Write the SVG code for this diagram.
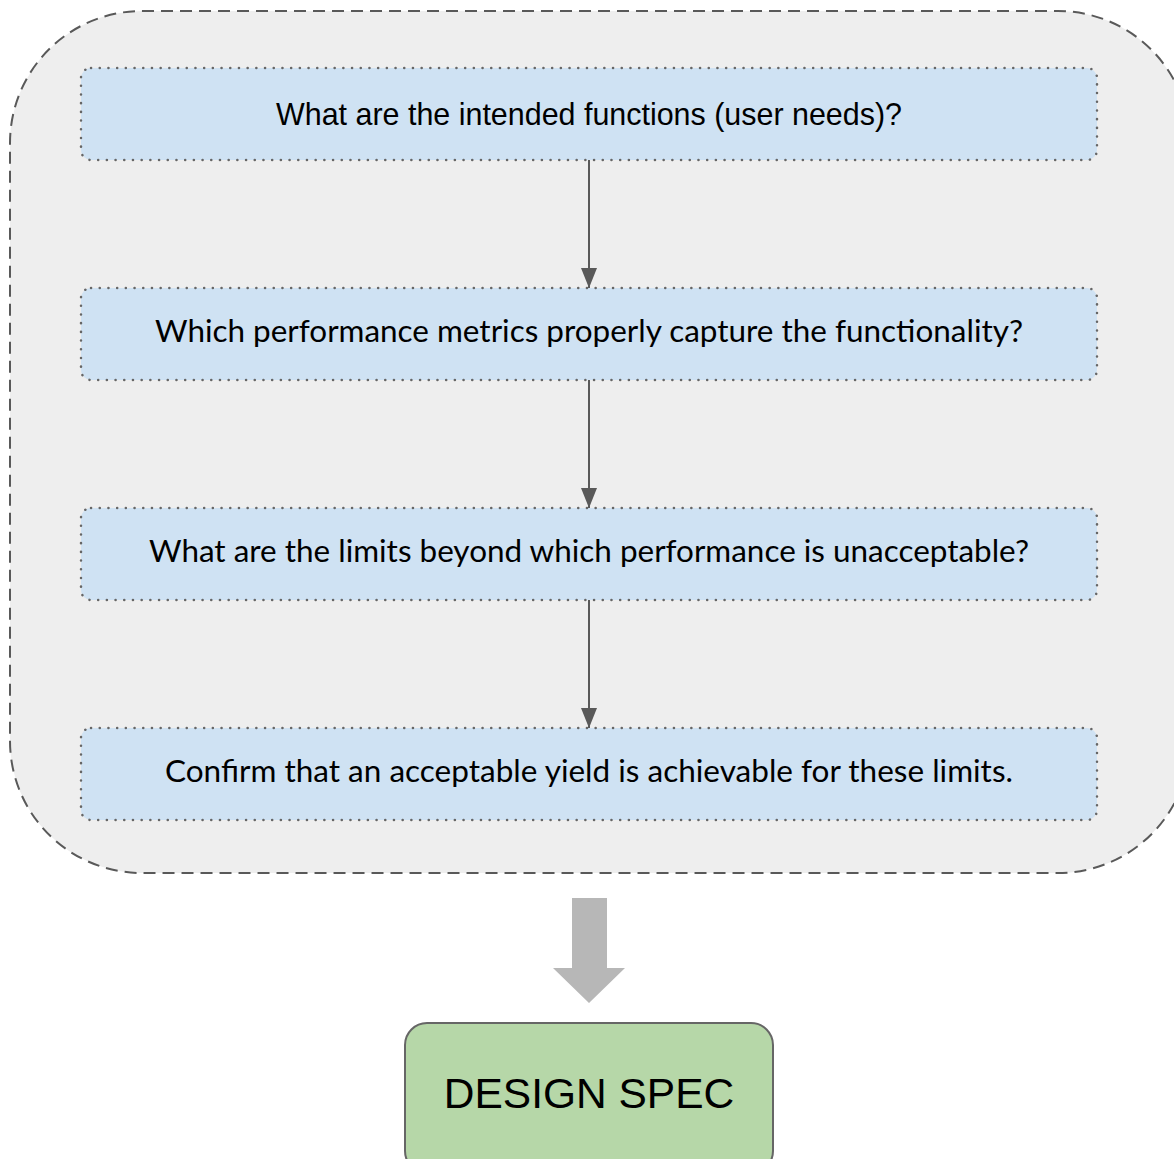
<svg xmlns="http://www.w3.org/2000/svg" width="1174" height="1159" viewBox="0 0 1174 1159">
<defs>
<style>
.q{fill:#cfe2f3;stroke:#666;stroke-width:2.5;stroke-dasharray:0.1 8.6;stroke-linecap:round}
.t{font-family:Lato,"Open Sans",sans-serif;font-size:31px;fill:#000;text-anchor:middle}
.ta{font-family:"Liberation Sans",Arial,sans-serif;font-size:30.5px;fill:#000;text-anchor:middle}
.c{stroke:#595959;stroke-width:2;fill:none}
</style>
<marker id="ah2" viewBox="0 0 20 16" refX="20" refY="8" markerWidth="20" markerHeight="16" markerUnits="userSpaceOnUse" orient="auto">
<path d="M0,0 L20,8 L0,16 z" fill="#595959"/>
</marker>
</defs>
<rect width="1174" height="1159" fill="#fff"/>
<g id="container">
<rect x="10" y="11" width="1180" height="862" rx="132" ry="132" fill="#eeeeee" stroke="#595959" stroke-width="2" stroke-dasharray="12 7"/>
</g>
<g id="n1">
<rect class="q" x="81" y="68" width="1016" height="92" rx="10"/>
<text class="ta" x="589" y="125" textLength="626" lengthAdjust="spacingAndGlyphs">What are the intended functions (user needs)?</text>
</g>
<g id="n2">
<rect class="q" x="81" y="288" width="1016" height="92" rx="10"/>
<text class="t" x="589" y="342" textLength="868" lengthAdjust="spacingAndGlyphs">Which performance metrics properly capture the functionality?</text>
</g>
<g id="n3">
<rect class="q" x="81" y="508" width="1016" height="92" rx="10"/>
<text class="t" x="589" y="562" textLength="880" lengthAdjust="spacingAndGlyphs">What are the limits beyond which performance is unacceptable?</text>
</g>
<g id="n4">
<rect class="q" x="81" y="728" width="1016" height="92" rx="10"/>
<text class="t" x="589" y="782" textLength="848" lengthAdjust="spacingAndGlyphs">Confirm that an acceptable yield is achievable for these limits.</text>
</g>
<g id="connectors">
<line class="c" x1="589" y1="160" x2="589" y2="288" marker-end="url(#ah2)"/>
<line class="c" x1="589" y1="380" x2="589" y2="508" marker-end="url(#ah2)"/>
<line class="c" x1="589" y1="600" x2="589" y2="728" marker-end="url(#ah2)"/>
<path d="M572,898 H607 V968 H625 L589,1003 L553,968 H572 Z" fill="#b7b7b7"/>
</g>
<g id="n5">
<rect x="405" y="1023" width="368" height="150" rx="22" fill="#b6d7a8" stroke="#666" stroke-width="2"/>
<text x="589" y="1108" font-family="'Liberation Sans',Arial,sans-serif" font-size="42.5" text-anchor="middle" fill="#000">DESIGN SPEC</text>
</g>
</svg>
